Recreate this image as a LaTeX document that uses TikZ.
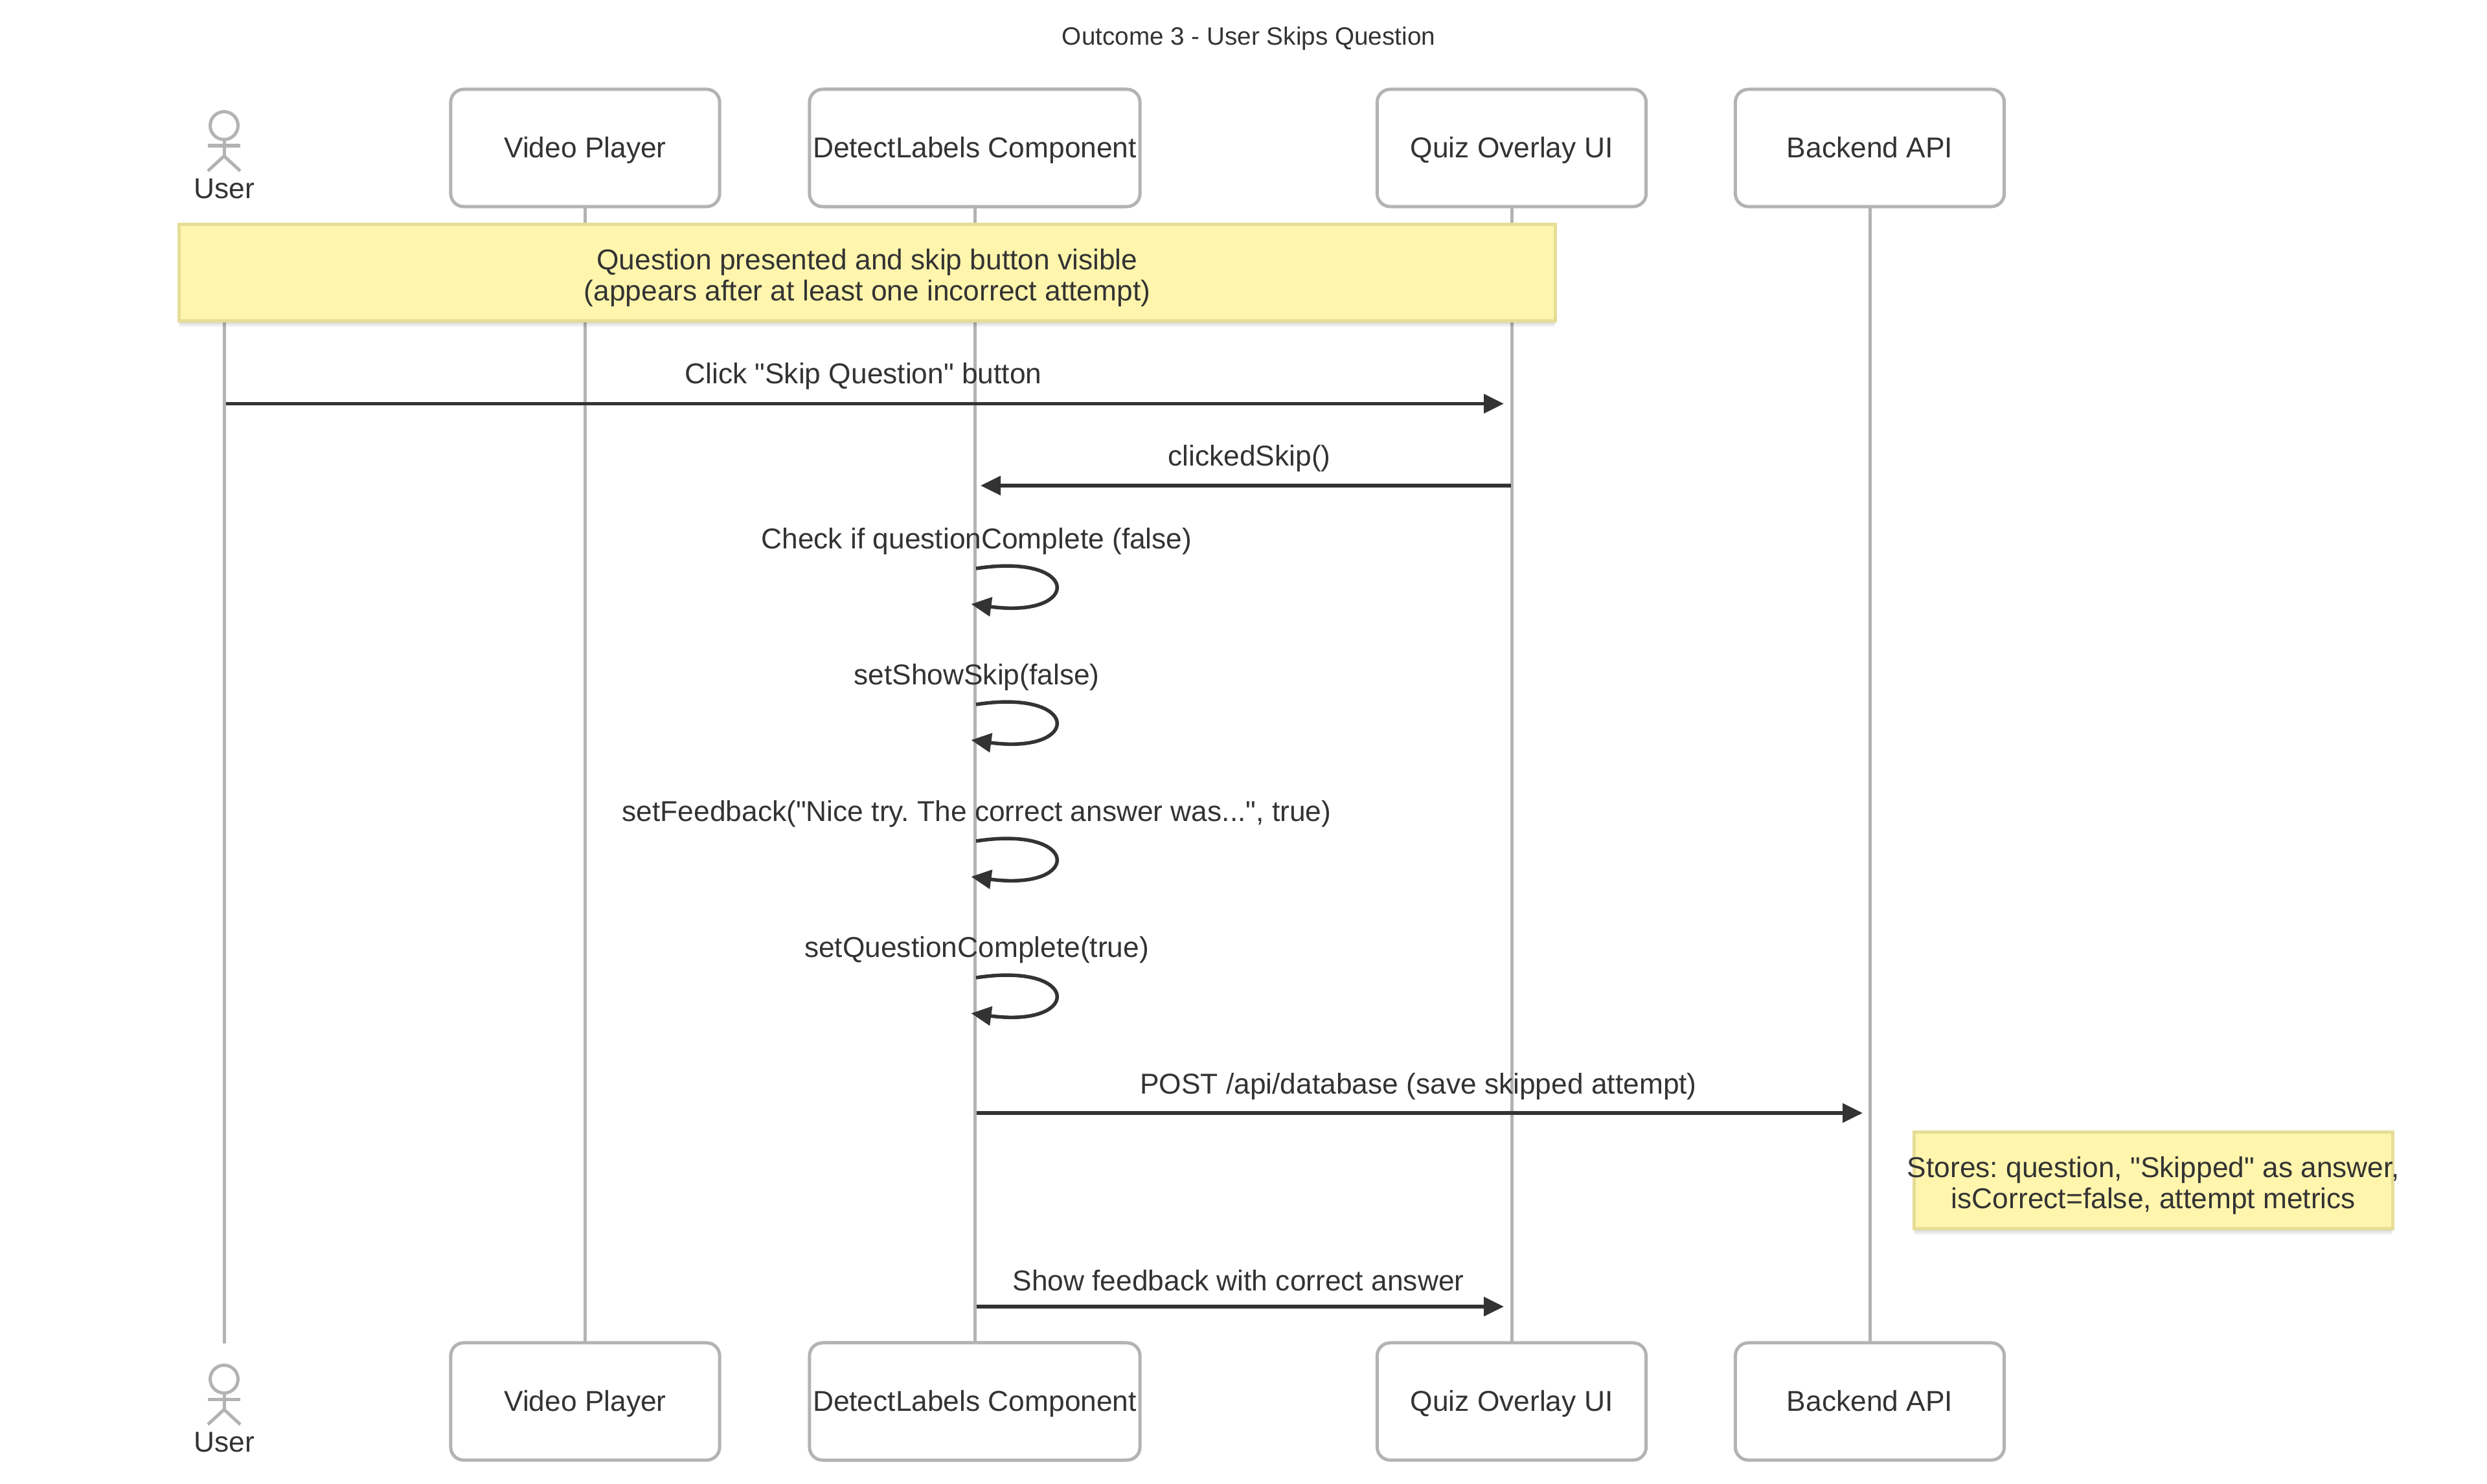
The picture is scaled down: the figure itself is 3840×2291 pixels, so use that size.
\documentclass[tikz,border=0pt]{standalone}
\usepackage{fontspec}
\setmainfont{Liberation Sans}[Ligatures=TeXOff]
\usetikzlibrary{arrows.meta,shadows}
\pgfdeclarelayer{background}
\pgfsetlayers{background,main}
\frenchspacing
\definecolor{ink}{HTML}{333333}
\definecolor{life grey}{HTML}{B3B3B3}
\definecolor{note area}{HTML}{FFF5AD}
\definecolor{note edge}{HTML}{E6DD96}
\def\actors{{903.5/player/Video Player}, {1505/detect/DetectLabels Component}, {2334/quiz/Quiz Overlay UI}, {2887/backend/Backend API}}
\def\selfcalls{{878/933/a}, {1088/1143/b}, {1299/1354/c}, {1510/1565/d}}
\tikzstyle{labeltext}=[text=ink,font=\fontsize{12.6}{13.7}\selectfont,inner sep=0pt,outer sep=0pt,text height=.38cm,text depth=.09cm]
\tikzstyle{actorbox}=[labeltext,draw=life grey,fill=white,line width=.05cm,rounded corners=.2cm,minimum height=1.81cm,minimum width=4.15cm]
\tikzstyle{notebox}=[text=ink,font=\fontsize{12.6}{13.7}\selectfont,inner sep=0pt,outer sep=0pt,align=center,text height=.97cm,draw=note edge,fill=note area,line width=.05cm,
  drop shadow={shadow xshift=0cm,shadow yshift=-.03cm,opacity=.06,fill=black},
  drop shadow={shadow xshift=.01cm,shadow yshift=-.06cm,opacity=.06,fill=black},
  drop shadow={shadow xshift=-.01cm,shadow yshift=-.09cm,opacity=.05,fill=black}]
\tikzstyle{lifeline}=[draw=life grey,line width=.05cm]
\tikzstyle{stick}=[draw=life grey,line width=.05cm]
\tikzstyle{message}=[draw=ink,line width=.055cm,-{Triangle[length=.31cm,width=.29cm]}]

\begin{document}
\begin{tikzpicture}[x=.01cm,y=-.01cm]
  \useasboundingbox (0,0) rectangle (3840,2291);

  \node[labeltext,font=\fontsize{11}{13}\selectfont] (title) at (1928,55) {Outcome 3 - User Skips Question};

  % The boxes on top and at the bottom
  \foreach \x/\name/\txt in \actors {
    \node[actorbox] (\name-top) at (\x,228.5) {\txt};
    \node[actorbox] (\name-bot) at (\x,2164.5) {\txt};
  }
  \node[actorbox,minimum width=5.1cm] (detect-top) at (1505,228.5) {DetectLabels Component};
  \node[actorbox,minimum width=5.1cm] (detect-bot) at (1505,2164.5) {DetectLabels Component};

  % The stick figures
  \foreach \y/\name in {194/top, 2130/bot} {
    \draw[stick] (346,\y) circle (21.5);
    \draw[stick] (346,\y+21) -- (346,\y+47);
    \draw[stick] (321,\y+31) -- (371,\y+31);
    \draw[stick] (321,\y+70) -- (346,\y+47) -- (371,\y+70);
    \node[labeltext] (user-\name) at (346,\y+98) {User};
  }
  \coordinate (user-start) at (346,400);
  \coordinate (user-end) at (346,2075);

  % The lifelines
  \begin{pgfonlayer}{background}
    \path[lifeline] (user-start) -- (user-end);
    \foreach \name in {player, detect, quiz, backend}
      \path[lifeline] (\name-top) -- (\name-bot);
  \end{pgfonlayer}

  % The notes
  \node[notebox,minimum width=21.23cm,minimum height=1.49cm] (note-shown) at (1339,421) {Question presented and skip button visible\\(appears after at least one incorrect attempt)};
  \node[notebox,minimum width=7.38cm,minimum height=1.49cm] (note-stored) at (3325,1823) {\makebox[0pt]{Stores: question, "Skipped" as answer,}\\isCorrect=false, attempt metrics};

  % The free ends of the messages
  \coordinate (click-s) at (349,623.5);
  \coordinate (click-e) at (2322,623.5);
  \coordinate (skip-s) at (2333,750);
  \coordinate (skip-e) at (1514,750);
  \coordinate (post-s) at (1508,1719);
  \coordinate (post-e) at (2876,1719);
  \coordinate (show-s) at (1508,2018);
  \coordinate (show-e) at (2322,2018);

  \foreach \source/\sink in {click-s/click-e, skip-s/skip-e, post-s/post-e, show-s/show-e}
    \path[message] (\source) -- (\sink);

  % The calls a component makes on itself
  \foreach \ya/\yb/\name in \selfcalls {
    \coordinate (self\name-s) at (1507,\ya);
    \coordinate (self\name-e) at (1499.5,\yb);
    \path[message] (self\name-s) .. controls +(163,-25) and +(171,23) .. (self\name-e);
  }

  % The message texts
  \node[labeltext] (click-txt) at (1333,578) {Click "Skip Question" button};
  \node[labeltext] (skip-txt) at (1929,705) {clickedSkip()};
  \node[labeltext] (selfa-txt) at (1508,833) {Check if questionComplete (false)};
  \node[labeltext] (selfb-txt) at (1508,1043) {setShowSkip(false)};
  \node[labeltext] (selfc-txt) at (1508,1254) {setFeedback("Nice try. The correct answer was...", true)};
  \node[labeltext] (selfd-txt) at (1508,1464) {setQuestionComplete(true)};
  \node[labeltext] (post-txt) at (2190,1675) {POST /api/database (save skipped attempt)};
  \node[labeltext] (show-txt) at (1912,1979) {Show feedback with correct answer};
\end{tikzpicture}
\end{document}
